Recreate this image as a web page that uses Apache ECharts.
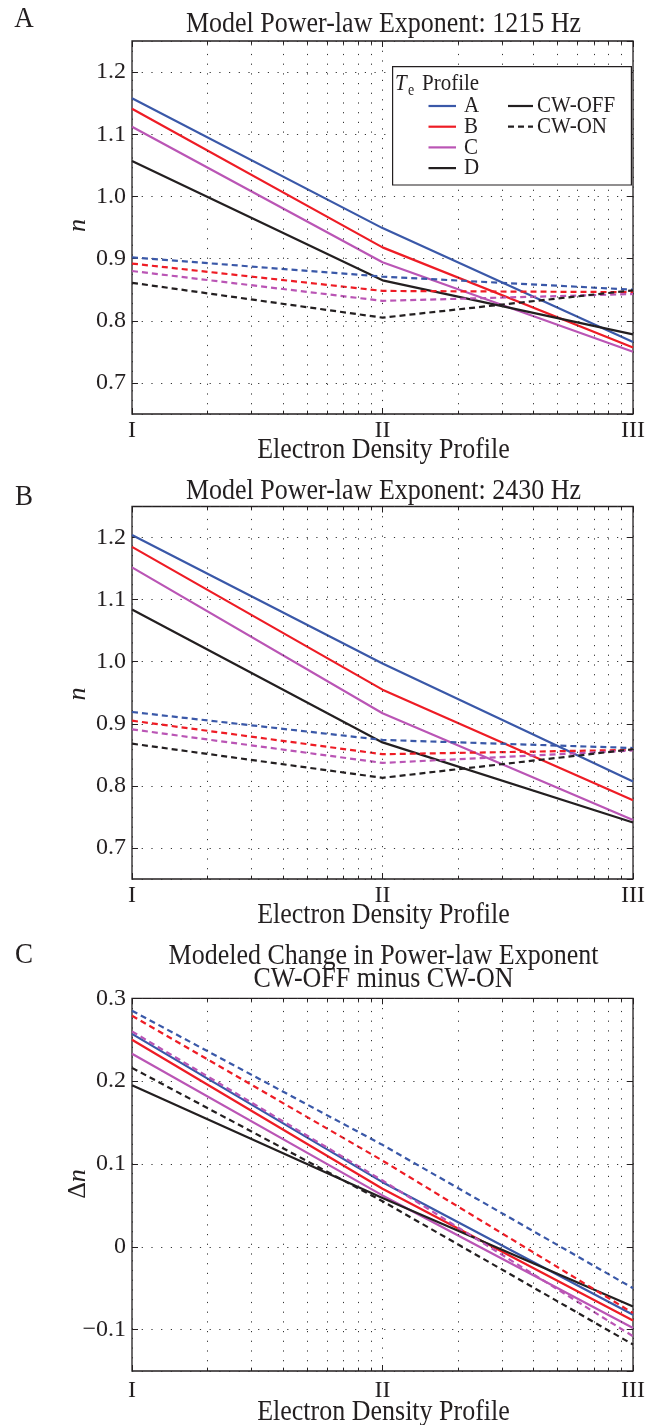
<!DOCTYPE html>
<html><head><meta charset="utf-8">
<script src="https://cdn.jsdelivr.net/npm/echarts@6/dist/echarts.min.js"></script>
<style>html,body{margin:0;padding:0;background:#fff}#c{width:648px;height:1425px}</style>
</head><body><div id="c"></div>
<script>
// ---------------- data ----------------
const xValues = [1, 10, 100];              // electron density profiles on a log axis
const xTickLabels = ['I', 'II', 'III'];
const profiles = ['A', 'B', 'C', 'D'];

// Panel A: 1215 Hz
const off1215_A = [1.158, 0.949, 0.766];
const off1215_B = [1.141, 0.918, 0.757];
const off1215_C = [1.112, 0.894, 0.750];
const off1215_D = [1.057, 0.865, 0.778];
const on1215_A = [0.902, 0.871, 0.850];
const on1215_B = [0.892, 0.848, 0.846];
const on1215_C = [0.880, 0.832, 0.843];
const on1215_D = [0.861, 0.805, 0.849];

// Panel B: 2430 Hz
const off2430_A = [1.204, 0.997, 0.807];
const off2430_B = [1.185, 0.955, 0.777];
const off2430_C = [1.152, 0.917, 0.745];
const off2430_D = [1.084, 0.870, 0.741];
const on2430_A = [0.919, 0.874, 0.861];
const on2430_B = [0.905, 0.851, 0.858];
const on2430_C = [0.891, 0.837, 0.857];
const on2430_D = [0.868, 0.813, 0.859];

// Panel C: change (solid = 1215 Hz, dashed = 2430 Hz)
const dn1215_A = [0.257, 0.078, -0.082];
const dn1215_B = [0.250, 0.070, -0.089];
const dn1215_C = [0.233, 0.062, -0.098];
const dn1215_D = [0.195, 0.059, -0.072];
const dn2430_A = [0.285, 0.123, -0.050];
const dn2430_B = [0.279, 0.104, -0.080];
const dn2430_C = [0.260, 0.080, -0.108];
const dn2430_D = [0.216, 0.055, -0.118];

const minorX = [2, 3, 4, 5, 6, 7, 8, 9, 20, 30, 40, 50, 60, 70, 80, 90];

// ---------------- styling ----------------
const FONT = '"Liberation Serif", "Times New Roman", serif';
const INK = '#231F20';
const COLORS = {A: '#3A58A8', B: '#EE1C25', C: '#BA55B5', D: '#231F20'};
const DASH = [6, 4];
const DOT = [1.2, 8.5];
const SY = 1.12; // reference text is slightly tall

const grids = [
  {left: 132, right: 13, top: 41, height: 373, ymin: 0.65, ymax: 1.25, split: 6, labMargin: 5, showMax: false},
  {left: 132, right: 13, top: 506.5, height: 372.5, ymin: 0.65, ymax: 1.25, split: 6, labMargin: 5, showMax: false},
  {left: 132, right: 13, top: 998.3, height: 372.7, ymin: -0.15, ymax: 0.3, split: 5, labMargin: 8, showMax: true}
];

const panelSeries = [
  {solid: [off1215_A, off1215_B, off1215_C, off1215_D], dashed: [on1215_A, on1215_B, on1215_C, on1215_D]},
  {solid: [off2430_A, off2430_B, off2430_C, off2430_D], dashed: [on2430_A, on2430_B, on2430_C, on2430_D]},
  {solid: [dn1215_A, dn1215_B, dn1215_C, dn1215_D], dashed: [dn2430_A, dn2430_B, dn2430_C, dn2430_D]}
];

function fmtY(v) {
  if (Math.abs(v) < 1e-9) return '0';
  const s = Math.abs(v).toFixed(1);
  return v < 0 ? '\u2212' + s : s;
}

const gridOpt = [], xAxes = [], yAxes = [], series = [];
grids.forEach((g, gi) => {
  gridOpt.push({left: g.left, right: g.right, top: g.top, height: g.height, show: true,
    borderColor: INK, borderWidth: 1.3, backgroundColor: 'transparent', containLabel: false});
  // bottom log axis
  xAxes.push({type: 'log', logBase: 10, gridIndex: gi, min: 1, max: 100, position: 'bottom',
    axisLine: {show: false, onZero: false},
    axisTick: {show: true, inside: true, length: 6, lineStyle: {color: INK, width: 1}},
    axisLabel: {margin: g.labMargin, fontFamily: FONT, fontSize: 24, color: INK,
      formatter: v => { const i = xValues.findIndex(x => Math.abs(x - v) < 1e-6); return i >= 0 ? xTickLabels[i] : ''; }},
    splitLine: {show: true, lineStyle: {type: DOT, color: '#333', width: 1}}});
  // top log axis (ticks only)
  xAxes.push({type: 'log', logBase: 10, gridIndex: gi, min: 1, max: 100, position: 'top',
    axisLine: {show: false, onZero: false}, axisLabel: {show: false}, splitLine: {show: false},
    axisTick: {show: true, inside: true, length: 6, lineStyle: {color: INK, width: 1}}});
  yAxes.push({type: 'value', gridIndex: gi, min: g.ymin, max: g.ymax, splitNumber: g.split, position: 'left',
    axisLine: {show: false, onZero: false},
    axisTick: {show: true, inside: true, length: 6, lineStyle: {color: INK, width: 1}},
    axisLabel: {margin: 6, fontFamily: FONT, fontSize: 24, color: INK, formatter: fmtY,
      showMinLabel: false, showMaxLabel: g.showMax},
    splitLine: {show: true, lineStyle: {type: DOT, color: '#333', width: 1}}});
  yAxes.push({type: 'value', gridIndex: gi, min: g.ymin, max: g.ymax, splitNumber: g.split, position: 'right',
    axisLine: {show: false, onZero: false}, axisLabel: {show: false}, splitLine: {show: false},
    axisTick: {show: true, inside: true, length: 6, lineStyle: {color: INK, width: 1}}});

  const xi = gi * 2, yi = gi * 2;
  const d = (g.ymax - g.ymin) * 0.009;
  // minor log grid + minor ticks
  series.push({type: 'line', xAxisIndex: xi, yAxisIndex: yi, data: [], z: 1, silent: true, animation: false,
    markLine: {silent: true, animation: false, symbol: ['none', 'none'], label: {show: false},
      lineStyle: {type: DOT, color: '#333', width: 1},
      data: minorX.map(v => ({xAxis: v}))}});
  series.push({type: 'line', xAxisIndex: xi, yAxisIndex: yi, data: [], z: 1, silent: true, animation: false,
    markLine: {silent: true, animation: false, symbol: ['none', 'none'], label: {show: false},
      lineStyle: {type: 'solid', color: INK, width: 1},
      data: minorX.map(v => [{coord: [v, g.ymin]}, {coord: [v, g.ymin + d]}])
        .concat(minorX.map(v => [{coord: [v, g.ymax]}, {coord: [v, g.ymax - d]}]))}});

  const ps = panelSeries[gi];
  ps.solid.forEach((vals, k) => {
    series.push({type: 'line', name: profiles[k] + ' solid', xAxisIndex: xi, yAxisIndex: yi, z: 3,
      data: xValues.map((x, i) => [x, vals[i]]), symbol: 'none', animation: false,
      lineStyle: {color: COLORS[profiles[k]], width: 2.2}});
  });
  ps.dashed.forEach((vals, k) => {
    series.push({type: 'line', name: profiles[k] + ' dashed', xAxisIndex: xi, yAxisIndex: yi, z: 4,
      data: xValues.map((x, i) => [x, vals[i]]), symbol: 'none', animation: false,
      lineStyle: {color: COLORS[profiles[k]], width: 2.2, type: DASH}});
  });
});

// ---------------- text & legend ----------------
function txt(x, y, s, size, extra) {
  return Object.assign({type: 'text', x: x, y: y, z: 100, silent: true, scaleY: SY,
    style: Object.assign({text: s, fontFamily: FONT, fontSize: size, fill: INK, align: 'center', verticalAlign: 'middle'}, extra || {})});
}
const graphics = [];
// panel letters
graphics.push(txt(24, 19, 'A', 27), txt(24, 497, 'B', 27), txt(24, 955, 'C', 27));
// titles
graphics.push(txt(383.5, 24, 'Model Power-law Exponent: 1215 Hz', 26));
graphics.push(txt(383.5, 491.5, 'Model Power-law Exponent: 2430 Hz', 26));
graphics.push(txt(383.5, 956.5, 'Modeled Change in Power-law Exponent', 26));
graphics.push(txt(383.5, 979, 'CW-OFF minus CW-ON', 26));
// x axis names
graphics.push(txt(383.5, 450, 'Electron Density Profile', 26));
graphics.push(txt(383.5, 915, 'Electron Density Profile', 26));
graphics.push(txt(383.5, 1412, 'Electron Density Profile', 26));
// y axis names
graphics.push(Object.assign(txt(78.5, 225.5, 'n', 26, {fontStyle: 'italic'}), {rotation: Math.PI / 2, scaleY: 1}));
graphics.push(Object.assign(txt(78.5, 694, 'n', 26, {fontStyle: 'italic'}), {rotation: Math.PI / 2, scaleY: 1}));
graphics.push({type: 'text', x: 78.5, y: 1184, z: 100, rotation: Math.PI / 2, silent: true,
  style: {text: '{a|\u0394}{b|n}', align: 'center', verticalAlign: 'middle', fill: INK,
    rich: {a: {fontFamily: FONT, fontSize: 26, fill: INK}, b: {fontFamily: FONT, fontSize: 26, fontStyle: 'italic', fill: INK}}}});

// legend box (panel A)
graphics.push({type: 'rect', z: 90, silent: true, shape: {x: 392.6, y: 66.7, width: 238.8, height: 118.3},
  style: {fill: '#fff', stroke: INK, lineWidth: 1.2}});
graphics.push(txt(395, 84, 'T', 21, {align: 'left', fontStyle: 'italic'}));
graphics.push(txt(408, 91, 'e', 14, {align: 'left'}));
graphics.push(txt(422, 84, 'Profile', 21, {align: 'left'}));
const rowY = [106, 126.7, 147.4, 168.1];
profiles.forEach((p, k) => {
  graphics.push({type: 'line', z: 100, silent: true, shape: {x1: 428.5, y1: rowY[k], x2: 456, y2: rowY[k]},
    style: {stroke: COLORS[p], lineWidth: 2.2}});
  graphics.push(txt(464, rowY[k], p, 21, {align: 'left'}));
});
graphics.push({type: 'line', z: 100, silent: true, shape: {x1: 508, y1: rowY[0], x2: 533, y2: rowY[0]},
  style: {stroke: INK, lineWidth: 2.2}});
graphics.push(txt(537, rowY[0], 'CW-OFF', 21, {align: 'left'}));
graphics.push({type: 'line', z: 100, silent: true, shape: {x1: 508, y1: rowY[1], x2: 533, y2: rowY[1]},
  style: {stroke: INK, lineWidth: 2.2, lineDash: DASH}});
graphics.push(txt(537, rowY[1], 'CW-ON', 21, {align: 'left'}));

const chart = echarts.init(document.getElementById('c'), null, {renderer: 'canvas'});
chart.setOption({
  animation: false,
  backgroundColor: '#fff',
  grid: gridOpt,
  xAxis: xAxes,
  yAxis: yAxes,
  series: series,
  graphic: graphics
});
</script>
</body></html>
